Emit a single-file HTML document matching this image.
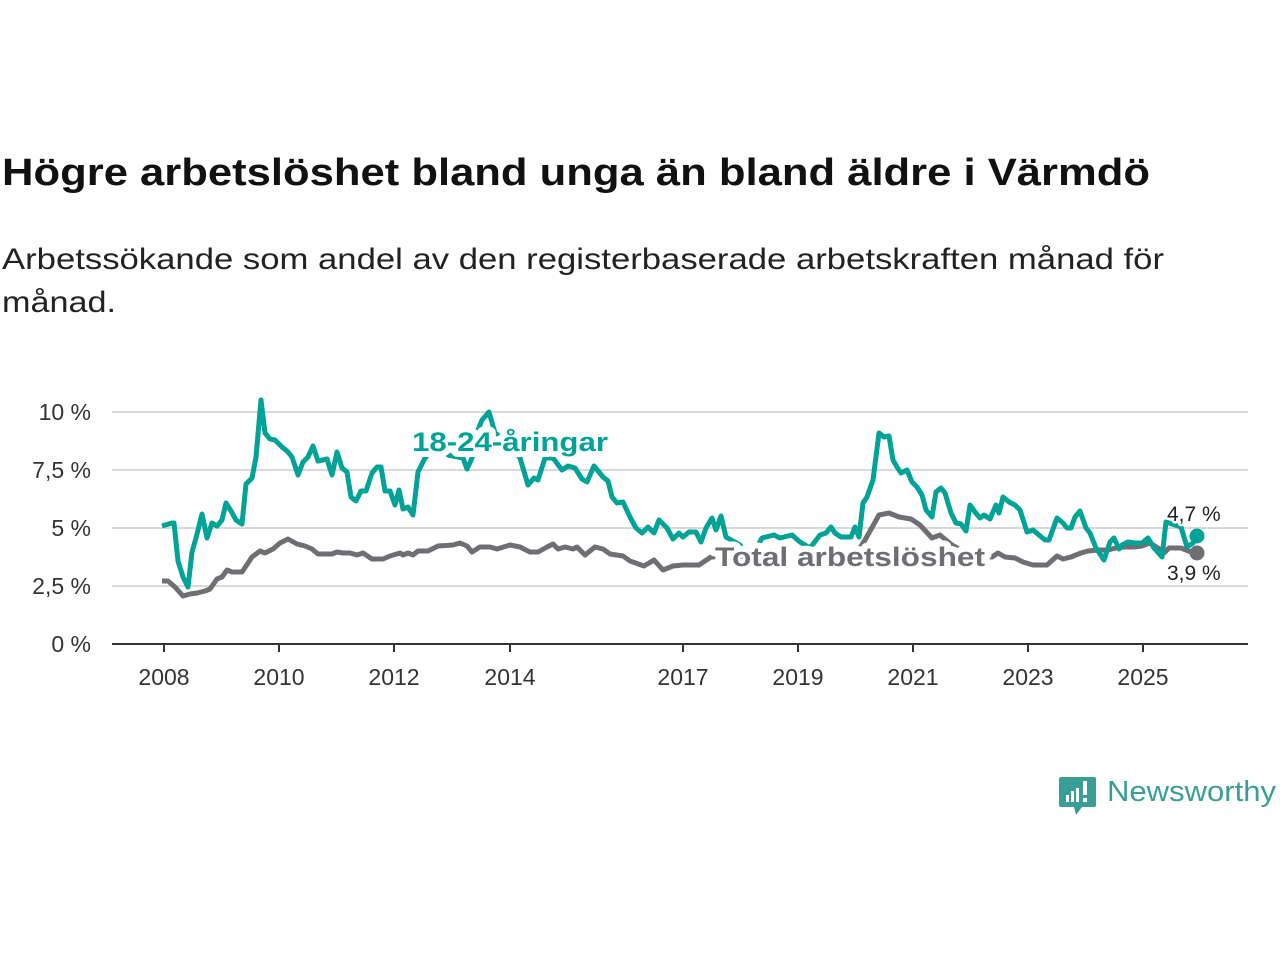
<!DOCTYPE html>
<html><head><meta charset="utf-8"><style>
html,body{margin:0;padding:0;background:#fff;width:1280px;height:960px;overflow:hidden}
svg{display:block;font-family:"Liberation Sans",sans-serif}
</style></head><body>
<svg width="1280" height="960" viewBox="0 0 1280 960" xmlns="http://www.w3.org/2000/svg">
<text x="2" y="185" font-size="38" font-weight="bold" fill="#111" textLength="1148" lengthAdjust="spacingAndGlyphs">Högre arbetslöshet bland unga än bland äldre i Värmdö</text>
<text x="2" y="269" font-size="30" fill="#222" textLength="1162" lengthAdjust="spacingAndGlyphs">Arbetssökande som andel av den registerbaserade arbetskraften månad för</text>
<text x="2" y="312" font-size="30" fill="#222" textLength="114" lengthAdjust="spacingAndGlyphs">månad.</text>
<g stroke="#d9d9d9" stroke-width="2">
<line x1="112" y1="412" x2="1248" y2="412"/><line x1="112" y1="470" x2="1248" y2="470"/>
<line x1="112" y1="528" x2="1248" y2="528"/><line x1="112" y1="586" x2="1248" y2="586"/>
</g>
<line x1="112" y1="644" x2="1248" y2="644" stroke="#333" stroke-width="2"/>
<g stroke="#333" stroke-width="2">
<line x1="164" y1="644" x2="164" y2="652"/><line x1="279" y1="644" x2="279" y2="652"/><line x1="394" y1="644" x2="394" y2="652"/><line x1="510" y1="644" x2="510" y2="652"/><line x1="683" y1="644" x2="683" y2="652"/><line x1="798" y1="644" x2="798" y2="652"/><line x1="913" y1="644" x2="913" y2="652"/><line x1="1028" y1="644" x2="1028" y2="652"/><line x1="1143" y1="644" x2="1143" y2="652"/>
</g>
<g font-size="23" fill="#333" text-anchor="end">
<text x="91" y="420">10 %</text><text x="91" y="478">7,5 %</text><text x="91" y="536">5 %</text><text x="91" y="594">2,5 %</text><text x="91" y="652">0 %</text>
</g>
<g font-size="23" fill="#333" text-anchor="middle">
<text x="164" y="685">2008</text><text x="279" y="685">2010</text><text x="394" y="685">2012</text><text x="510" y="685">2014</text><text x="683" y="685">2017</text><text x="798" y="685">2019</text><text x="913" y="685">2021</text><text x="1028" y="685">2023</text><text x="1143" y="685">2025</text>
</g>
<polyline fill="none" stroke="#6f6e73" stroke-width="5" stroke-linejoin="round" points="162,581 168,581 175,587 183,596 190,594 197,593 205,591 210,589 217,579 222,577 227,570 232,572 242,572 252,557 260,551 265,553 273,549 280,543 288,539 297,544 305,546 312,549 318,554 332,554 337,552 343,553 350,553 357,555 363,553 372,559 383,559 390,556 400,553 403,555 408,553 413,555 418,551 428,551 438,546 453,545 460,543 467,546 472,552 480,547 490,547 497,549 510,545 520,547 530,552 538,552 547,547 553,544 558,549 565,547 573,549 577,547 585,555 595,547 603,549 610,554 623,556 630,561 644,566 654,560 663,570 673,566 683,565 699,565 711,557 730,556 760,556 800,554 840,552 860,548 865,540 879,515 889,513 899,517 911,519 920,525 932,538 940,535 952,545 970,555 992,557 998,553 1005,557 1015,558 1023,562 1033,565 1047,565 1057,556 1063,559 1071,557 1081,553 1088,551 1098,550 1108,550 1116,548 1124,547 1134,547 1142,546 1150,543 1158,548 1164,553 1169,548 1181,548 1191,552 1197,553"/>
<polyline fill="none" stroke="#00a396" stroke-width="5" stroke-linejoin="round" points="162,526 172,523 174,523 178,561 183,577 188,587 192,552 196,538 202,514 207,538 212,523 217,526 222,520 226,503 231,511 236,520 242,524 246,484 252,478 256,457 261,400 265,433 270,439 275,440 282,447 288,452 292,457 298,475 303,462 308,457 313,446 318,461 327,459 332,475 337,452 342,468 347,472 351,497 356,501 361,491 366,491 372,473 377,467 381,467 385,491 390,491 395,505 399,490 403,509 408,507 413,515 418,472 425,458 440,440 448,455 463,458 467,469 472,458 478,430 482,420 489,412 495,433 505,440 520,458 528,485 534,478 538,480 545,458 553,458 562,470 568,466 575,468 582,479 587,482 594,466 603,477 608,481 612,497 617,503 623,502 630,517 636,528 642,533 648,527 654,533 659,520 667,528 673,539 679,533 683,537 689,532 696,532 701,542 706,528 712,518 716,530 721,516 726,537 740,545 750,560 762,538 774,535 780,538 792,535 800,542 810,548 820,535 826,533 831,527 835,533 841,537 851,537 855,527 859,537 863,503 867,497 873,480 879,433 884,437 889,436 893,460 897,467 901,473 907,470 912,482 917,487 922,495 926,510 932,517 936,492 941,488 945,493 951,513 956,523 961,524 966,531 970,505 975,512 980,518 984,515 990,519 996,505 999,513 1003,497 1009,502 1015,505 1020,510 1027,532 1033,530 1039,535 1045,540 1049,540 1057,518 1063,523 1067,528 1071,528 1075,517 1080,511 1086,528 1090,533 1096,548 1104,560 1110,542 1114,538 1119,549 1122,545 1128,542 1134,543 1142,543 1148,538 1154,548 1162,557 1166,522 1169,523 1181,527 1187,547 1193,543 1197,536"/>
<circle cx="1197" cy="536" r="7.5" fill="#00a396"/>
<circle cx="1197" cy="553" r="7.5" fill="#6f6e73"/>
<g paint-order="stroke" stroke="#fff" stroke-width="12" stroke-linejoin="round">
<text x="412" y="451" font-size="27" font-weight="bold" fill="#00a396" textLength="196" lengthAdjust="spacingAndGlyphs">18-24-åringar</text>
<text x="715" y="566" font-size="27" font-weight="bold" fill="#6f6e73" textLength="270" lengthAdjust="spacingAndGlyphs">Total arbetslöshet</text>
</g>
<g paint-order="stroke" stroke="#fff" stroke-width="5" stroke-linejoin="round">
<text x="1167" y="521" font-size="21" fill="#222">4,7 %</text>
<text x="1167" y="580" font-size="21" fill="#222">3,9 %</text>
</g>
<path d="M1061,777 h33 a2,2 0 0 1 2,2 v26 a2,2 0 0 1 -2,2 h-12 l-6,8 l-2,-8 h-13 a2,2 0 0 1 -2,-2 v-26 a2,2 0 0 1 2,-2z" fill="#3a9e96"/>
<g fill="#fff"><rect x="1066" y="795" width="3" height="7"/><rect x="1071" y="791" width="3" height="11"/><rect x="1076" y="788" width="3" height="14"/><rect x="1083" y="781" width="4" height="14"/><rect x="1083" y="798" width="4" height="4"/></g>
<text x="1107" y="801" font-size="29" fill="#3a9e96" textLength="169" lengthAdjust="spacingAndGlyphs">Newsworthy</text>
</svg>
</body></html>
